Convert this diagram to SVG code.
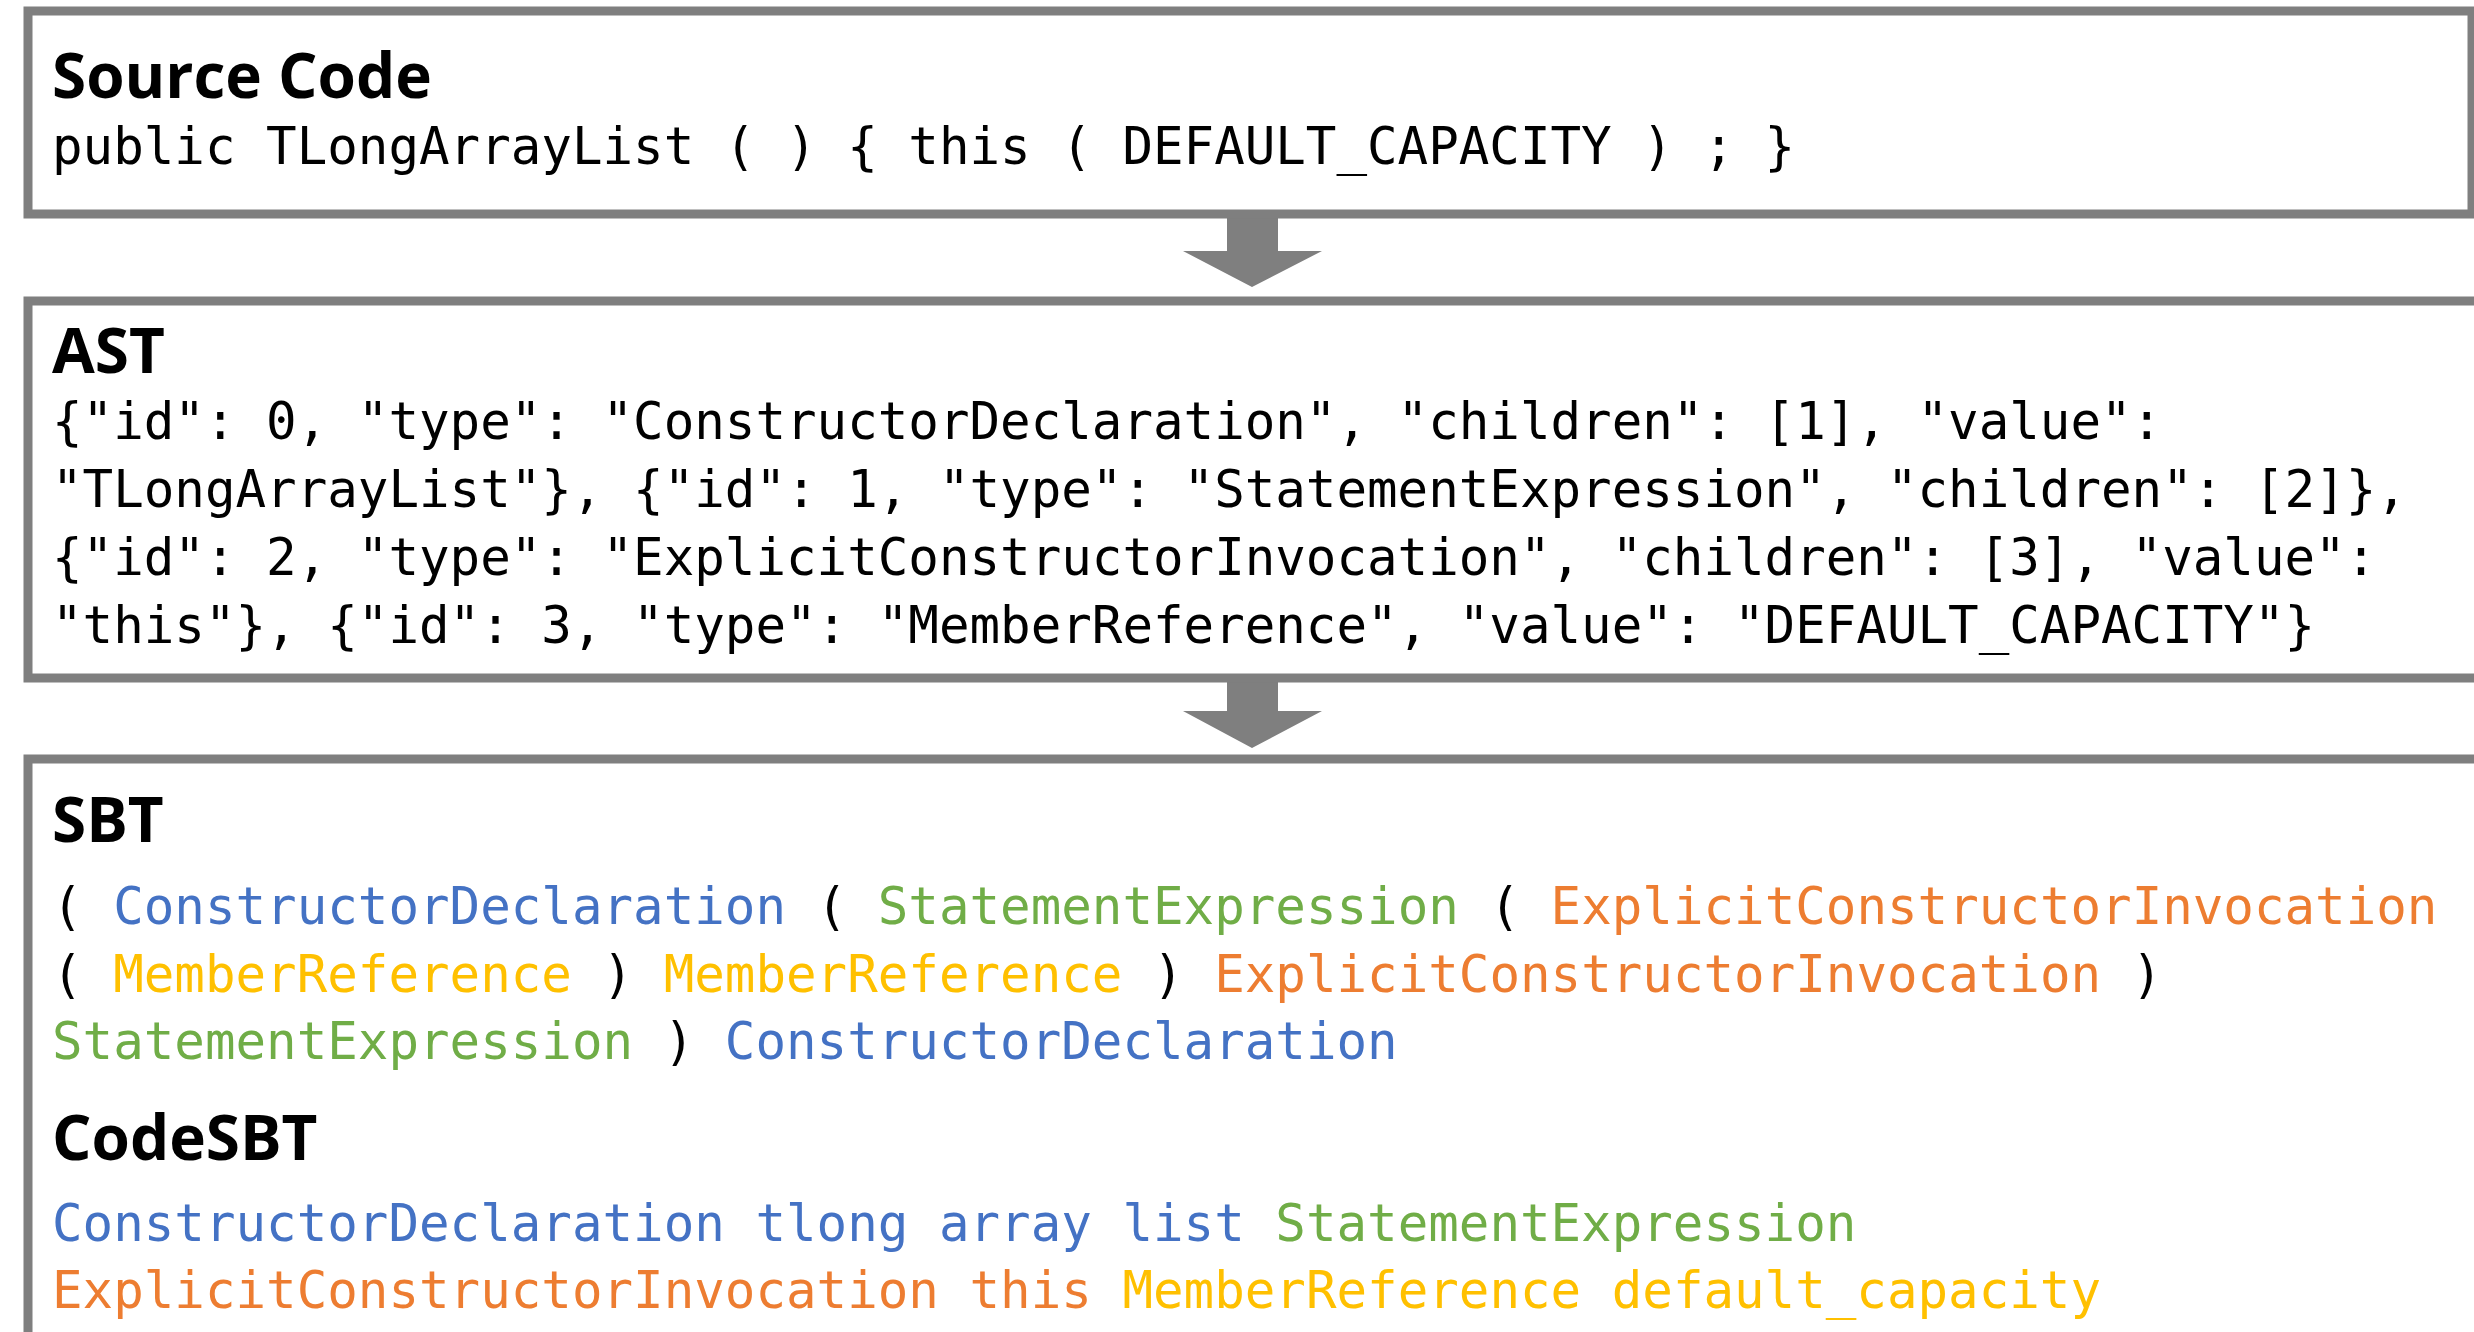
<svg xmlns="http://www.w3.org/2000/svg" width="2474" height="1332" viewBox="0 0 2474 1332">
  <style>
    .box { fill: #ffffff; stroke: #7f7f7f; stroke-width: 9; }
    .title { font-family: "Open Sans", "Noto Sans", sans-serif; font-weight: 700; font-size: 62px; fill: #000000; }
    .code { font-family: "DejaVu Sans Mono", "Liberation Mono", monospace; font-size: 50.8px; fill: #000000; white-space: pre; }
    .blue { fill: #4472c4; }
    .green { fill: #70ad47; }
    .orange { fill: #ed7d31; }
    .gold { fill: #ffc000; }
    .black { fill: #000000; }
    .arrow { fill: #7f7f7f; stroke: none; }
  </style>
  <rect x="0" y="0" width="2474" height="1332" fill="#ffffff"/>

  <g id="connectors">
    <polygon class="arrow" points="1227,214 1278,214 1278,251 1322,251 1252,287 1183,251 1227,251"/>
    <polygon class="arrow" points="1227,678 1278,678 1278,711 1322,711 1252,748 1183,711 1227,711"/>
  </g>

  <g id="source-code">
    <rect class="box" x="28" y="11" width="2444" height="203"/>
    <text class="title" x="52" y="98">Source Code</text>
    <text class="code" x="52" y="164" xml:space="preserve">public TLongArrayList ( ) { this ( DEFAULT_CAPACITY ) ; }</text>
  </g>

  <g id="ast">
    <rect class="box" x="28" y="301" width="2460" height="377"/>
    <text class="title" x="52" y="373">AST</text>
    <text class="code" x="52" y="439" xml:space="preserve">{"id": 0, "type": "ConstructorDeclaration", "children": [1], "value":</text>
    <text class="code" x="52" y="507" xml:space="preserve">"TLongArrayList"}, {"id": 1, "type": "StatementExpression", "children": [2]},</text>
    <text class="code" x="52" y="575" xml:space="preserve">{"id": 2, "type": "ExplicitConstructorInvocation", "children": [3], "value":</text>
    <text class="code" x="52" y="643" xml:space="preserve">"this"}, {"id": 3, "type": "MemberReference", "value": "DEFAULT_CAPACITY"}</text>
  </g>

  <g id="sbt">
    <rect class="box" x="28" y="759" width="2460" height="620"/>
    <text class="title" x="52" y="842">SBT</text>
    <text class="code" x="52" y="924" xml:space="preserve"><tspan class="black">( </tspan><tspan class="blue">ConstructorDeclaration</tspan><tspan class="black"> ( </tspan><tspan class="green">StatementExpression</tspan><tspan class="black"> ( </tspan><tspan class="orange">ExplicitConstructorInvocation</tspan></text>
    <text class="code" x="52" y="992" xml:space="preserve"><tspan class="black">( </tspan><tspan class="gold">MemberReference</tspan><tspan class="black"> ) </tspan><tspan class="gold">MemberReference</tspan><tspan class="black"> ) </tspan><tspan class="orange">ExplicitConstructorInvocation</tspan><tspan class="black"> )</tspan></text>
    <text class="code" x="52" y="1059" xml:space="preserve"><tspan class="green">StatementExpression</tspan><tspan class="black"> ) </tspan><tspan class="blue">ConstructorDeclaration</tspan></text>
  </g>

  <g id="codesbt">
    <text class="title" x="52" y="1160">CodeSBT</text>
    <text class="code" x="52" y="1241" xml:space="preserve"><tspan class="blue">ConstructorDeclaration tlong array list</tspan><tspan class="green"> StatementExpression</tspan></text>
    <text class="code" x="52" y="1308" xml:space="preserve"><tspan class="orange">ExplicitConstructorInvocation this</tspan><tspan class="gold"> MemberReference default_capacity</tspan></text>
  </g>
</svg>
